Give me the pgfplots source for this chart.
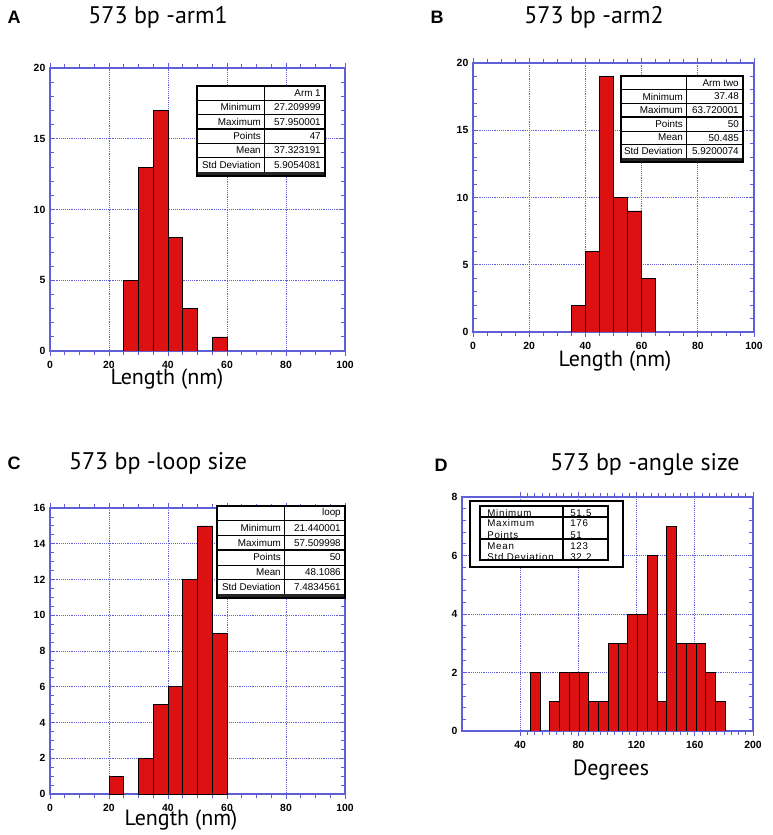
\documentclass[border=0pt]{standalone}
\usepackage{pgfplots}
\pgfplotsset{compat=1.18}
\usepackage{fontspec}
\setmainfont{Liberation Sans}
\newfontfamily\titlefont{PT Sans}
\definecolor{axblue}{RGB}{95,95,215}
\definecolor{barred}{RGB}{221,17,17}
\pgfplotsset{
 hist/.style={
  scale only axis, anchor=south west,
  axis line style={axblue, line width=0.8pt},
  every tick/.style={axblue, line width=0.6pt},
  major tick length=4pt, minor tick length=3pt,
  xmajorgrids, ymajorgrids,
  major grid style={axblue, densely dotted, line width=0.6pt},
  ticklabel style={font=\bfseries\fontsize{7.8}{9}\selectfont},
  /pgf/number format/assume math mode=true,
  ymin=0,
  ybar, bar width=5, bar shift=0pt,
 },
 bars/.style={fill=barred, draw=black, line width=0.5pt},
}
\newcommand{\tabfont}{\fontsize{7.4}{8}\selectfont}
\newcommand{\stattable}[6]{%
 \fill[white] (#1,#4) rectangle (#3,{#4-6*#5-4});
 \fill[black!85] (#1,{#4-6*#5}) rectangle (#3,{#4-6*#5-4});
 \draw[line width=0.4pt] (#2,#4) -- (#2,{#4-6*#5});
 \foreach \k/\w in {1/0.4pt,2/0.4pt,3/1.2pt,4/0.4pt,5/1.2pt}
   \draw[line width=\w] (#1,{#4-\k*#5}) -- (#3,{#4-\k*#5});
 \draw[line width=1.2pt] (#1,#4) rectangle (#3,{#4-6*#5-4});
 \foreach \lab/\val [count=\i from 0] in {#6} {
   \node[anchor=east, font=\tabfont, inner sep=0pt] at ({#2-3},{#4-(\i+0.5)*#5}) {\lab};
   \node[anchor=east, font=\tabfont, inner sep=0pt] at ({#3-4},{#4-(\i+0.5)*#5}) {\val};
 }
}
\begin{document}
\begin{tikzpicture}[x=0.75pt,y=0.75pt]
\path (0,0) rectangle (772,835);

% ---------- A ----------
\begin{axis}[hist, at={(37.5pt,363pt)}, width=221.25pt, height=212.25pt,
  xmin=0, xmax=100, ymax=20, xtick={0,20,...,100}, ytick={0,5,...,20},
  minor x tick num=3, minor y tick num=4]
\addplot[bars] coordinates {(27.5,5)(32.5,13)(37.5,17)(42.5,8)(47.5,3)(57.5,1)};
\end{axis}

% ---------- B ----------
\begin{axis}[hist, at={(354.75pt,377.25pt)}, width=210.75pt, height=201.75pt,
  xmin=0, xmax=100, ymax=20, xtick={0,20,...,100}, ytick={0,5,...,20},
  minor x tick num=3, minor y tick num=4]
\addplot[bars] coordinates {(37.5,2)(42.5,6)(47.5,19)(52.5,10)(57.5,9)(62.5,4)};
\end{axis}

% ---------- C ----------
\begin{axis}[hist, at={(37.5pt,30.75pt)}, width=221.25pt, height=214.5pt,
  xmin=0, xmax=100, ymax=16, xtick={0,20,...,100}, ytick={0,2,...,16},
  minor x tick num=3, minor y tick num=3]
\addplot[bars] coordinates {(22.5,1)(32.5,2)(37.5,5)(42.5,6)(47.5,12)(52.5,15)(57.5,9)};
\end{axis}

% ---------- D ----------
\begin{axis}[hist, at={(346.5pt,78pt)}, width=218.25pt, height=175.5pt,
  xmin=0, xmax=200, ymax=8, xtick={40,80,...,200}, ytick={0,2,...,8},
  minor x tick num=7, minor y tick num=4, bar width=6.7]
\addplot[bars] coordinates {(50.25,2)(63.65,1)(70.35,2)(77.05,2)(83.75,2)(90.45,1)
  (97.15,1)(103.85,3)(110.55,3)(117.25,4)(123.95,4)(130.65,6)(137.35,1)(144.05,7)
  (150.75,3)(157.45,3)(164.15,3)(170.85,2)(177.55,1)};
\end{axis}

% ---------- titles and labels ----------
\node[font=\bfseries\fontsize{13.5}{15}\selectfont] at (14,818) {A};
\node[font=\bfseries\fontsize{13.5}{15}\selectfont] at (437,818) {B};
\node[font=\bfseries\fontsize{13.5}{15}\selectfont] at (14,372) {C};
\node[font=\bfseries\fontsize{13.5}{15}\selectfont] at (441,370) {D};
\node[font=\titlefont\fontsize{18}{20}\selectfont] at (158,818) {573 bp -arm1};
\node[font=\titlefont\fontsize{18}{20}\selectfont] at (594,818) {573 bp -arm2};
\node[font=\titlefont\fontsize{18}{20}\selectfont] at (158,372) {573 bp -loop size};
\node[font=\titlefont\fontsize{18}{20}\selectfont] at (645,370) {573 bp -angle size};
\node[font=\titlefont\fontsize{16.5}{18}\selectfont] at (167,456) {Length (nm)};
\node[font=\titlefont\fontsize{16.5}{18}\selectfont] at (615,474) {Length (nm)};
\node[font=\titlefont\fontsize{16.5}{18}\selectfont] at (181,15) {Length (nm)};
\node[font=\titlefont\fontsize{16.5}{18}\selectfont] at (611,65) {Degrees};

% ---------- statistics tables ----------
\stattable{197}{264}{325}{749}{14.3}{{}/Arm 1,Minimum/27.209999,Maximum/57.950001,Points/47,Mean/37.323191,Std Deviation/5.9054081}
\stattable{621}{686}{743}{759}{13.7}{{}/Arm two,Minimum/37.48,Maximum/63.720001,Points/50,Mean/50.485,Std Deviation/5.9200074}
\stattable{217}{284}{345}{329}{14.7}{{}/loop,Minimum/21.440001,Maximum/57.509998,Points/50,Mean/48.1086,Std Deviation/7.4834561}

% panel D table
\fill[white] (470,334) rectangle (623,268);
\draw[line width=2.2pt] (470,334) rectangle (623,268);
\draw[line width=1.4pt] (480,329) rectangle (608,275);
\draw[line width=1.4pt] (563,329) -- (563,275);
\draw[line width=1.4pt] (480,318) -- (608,318);
\draw[line width=1.4pt] (480,296) -- (608,296);
\foreach \lab/\val/\yy in {Minimum/51.5/322,Maximum/176/312,Points/51/300,Mean/123/289,Std Deviation/32.2/278}{
  \node[anchor=west, inner sep=0pt, font=\fontsize{7.3}{8}\selectfont\addfontfeatures{LetterSpace=8}] at (487,\yy) {\lab};
  \node[anchor=west, inner sep=0pt, font=\fontsize{7.3}{8}\selectfont\addfontfeatures{LetterSpace=8}] at (570,\yy) {\val};
}
\end{tikzpicture}
\end{document}
